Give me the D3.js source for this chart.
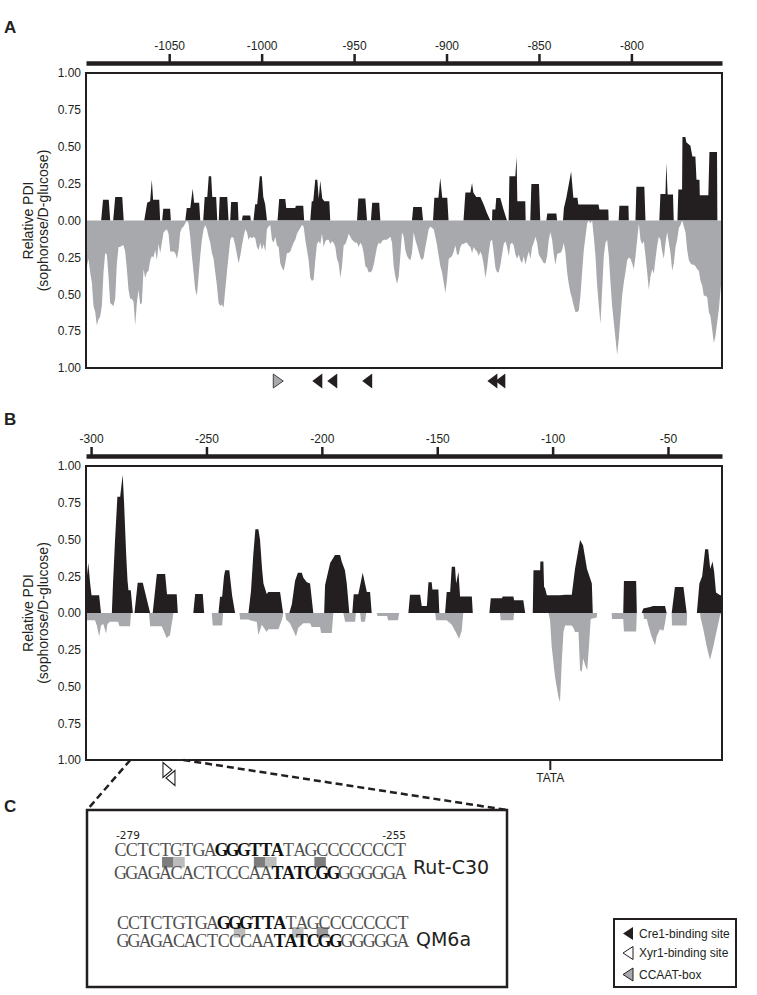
<!DOCTYPE html>
<html><head><meta charset="utf-8">
<script src="https://cdn.jsdelivr.net/npm/d3@7"></script>
<style>
body{margin:0;background:#fff}
svg{display:block;font-family:"Liberation Sans",Arial,sans-serif}
</style>
</head><body>
<svg id="chart" width="757" height="995"></svg>
<script>
// ---------------- DATA ----------------
const domainA = [-1095, -751];
const ticksA = [-1050, -1000, -950, -900, -850, -800];
const domainB = [-302.2, -26.6];
const ticksB = [-300, -250, -200, -150, -100, -50];
const yTickValues = [1, 0.75, 0.5, 0.25, 0, -0.25, -0.5, -0.75, -1];
const yTickLabels = ["1.00","0.75","0.50","0.25","0.00","0.25","0.50","0.75","1.00"];

// Panel A, black (upper) profile: [position bp, relative PDI]
const blackA = [
[-1086.8,0],[-1085.8,0.14],[-1082.7,0.14],[-1081.9,0],
[-1080.3,0],[-1079.2,0.16],[-1075.4,0.16],[-1074.6,0],
[-1063.5,0],[-1061.9,0.12],[-1060.3,0.13],[-1059.4,0.277],[-1058.7,0.14],[-1055.4,0.14],[-1054.9,0],
[-1053.8,0],[-1053.2,0.08],[-1049.5,0.08],[-1049.1,0],
[-1041.3,0],[-1040.5,0.085],[-1038.6,0.085],[-1037.3,0.216],[-1036.5,0.12],[-1033.8,0.12],[-1033.2,0],
[-1031.6,0],[-1030.8,0.16],[-1029.4,0.16],[-1028.6,0.3],[-1027.3,0.3],[-1026.7,0.16],[-1024.6,0.16],[-1024.0,0],
[-1023.2,0],[-1022.7,0.16],[-1018.6,0.16],[-1017.9,0],
[-1017.0,0],[-1016.5,0.126],[-1012.9,0.126],[-1012.5,0],
[-1010.7,0],[-1010.2,0.034],[-1006.2,0.034],[-1005.8,0],
[-1004.4,0],[-1003.5,0.11],[-1002.4,0.11],[-1001.0,0.3],[-999.9,0.3],[-999.1,0.16],[-998.1,0.11],[-997.1,0],
[-991.4,0],[-990.5,0.146],[-987.2,0.146],[-986.7,0.085],[-981.8,0.085],[-981.5,0.1],[-977.5,0.1],[-977.0,0],
[-973.7,0],[-972.9,0.13],[-972.1,0.13],[-971.0,0.277],[-969.9,0.277],[-969.1,0.15],[-968.3,0.27],[-967.2,0.15],[-966.1,0.13],[-963.4,0.13],[-962.9,0],
[-948.4,0],[-947.7,0.15],[-943.9,0.15],[-943.0,0],
[-940.9,0],[-940.2,0.12],[-936.4,0.12],[-935.8,0],
[-918.7,0],[-918.0,0.092],[-913.4,0.092],[-912.7,0],
[-907.3,0],[-906.6,0.155],[-904.4,0.155],[-903.4,0.288],[-902.3,0.155],[-899.6,0.155],[-898.9,0],
[-890.8,0],[-889.8,0.19],[-887.1,0.19],[-886.2,0.255],[-885.5,0.19],[-883.9,0.16],[-881.7,0.16],[-879.9,0.108],[-878.1,0.05],[-876.3,0],
[-875.4,0],[-875.2,0.074],[-873.6,0.074],[-873.1,0.153],[-870.9,0.153],[-869.3,0.08],[-867.3,0],
[-866.4,0],[-866.0,0.3],[-862.8,0.3],[-862.1,0.43],[-861.7,0.13],[-857.4,0.13],[-857.2,0],
[-854.7,0],[-854.1,0.248],[-850.0,0.248],[-849.3,0],
[-846.0,0],[-845.5,0.047],[-840.6,0.047],[-840.2,0],
[-837.0,0],[-836.5,0.085],[-835.2,0.155],[-832.6,0.333],[-831.4,0.155],[-829.2,0.155],[-828.7,0.108],[-817.8,0.108],[-817.3,0.074],[-812.5,0.074],[-812.3,0],
[-806.9,0],[-806.5,0.1],[-801.6,0.1],[-801.4,0],
[-797.8,0],[-797.3,0.228],[-793.0,0.228],[-792.4,0],
[-784.9,0],[-784.3,0.18],[-781.6,0.18],[-781.1,0.39],[-780.4,0.176],[-777.5,0.176],[-777.1,0],
[-775.1,0],[-774.6,0.21],[-772.6,0.21],[-772.4,0.566],[-770.8,0.566],[-770.3,0.53],[-768.1,0.507],[-767.0,0.434],[-765.4,0.434],[-764.8,0.277],[-763.2,0.277],[-763.0,0.171],[-758.4,0.171],[-757.8,0.464],[-753.7,0.464],[-753.5,0]
];

// Panel A, grey (lower) profile: readings taken every 0.902 bp starting at -1095.45
const grayAStart = -1095.45;
const grayAStep = 0.902;
const grayAValues = [
0.47,0.31,0.26,0.35,0.42,0.58,0.62,0.71,0.67,0.65,0.58,0.35,0.22,0.23,0.38,0.56,0.57,0.58,0.53,0.29,
0.18,0.18,0.17,0.17,0.21,0.33,0.47,0.53,0.53,0.55,0.71,0.56,0.47,0.57,0.56,0.33,0.39,0.35,0.34,0.27,
0.24,0.25,0.2,0.27,0.16,0.22,0.15,0.08,0.07,0.06,0.09,0.21,0.21,0.21,0.22,0.26,0.2,0.08,0.05,0.04,
0.02,0,0.02,0.11,0.24,0.35,0.47,0.51,0.38,0.24,0.13,0.06,0.03,0.06,0.11,0.15,0.22,0.26,0.35,0.44,
0.56,0.58,0.57,0.59,0.47,0.35,0.24,0.13,0.11,0.12,0.17,0.23,0.29,0.24,0.17,0.11,0.06,0.08,0.13,0.11,
0.12,0.11,0.12,0.18,0.2,0.15,0.2,0.16,0.21,0.06,0.04,0.03,0.13,0.15,0.11,0.17,0.18,0.29,0.32,0.34,
0.29,0.22,0.22,0.21,0.18,0.15,0.13,0.09,0.07,0.05,0.03,0.04,0.13,0.2,0.27,0.39,0.41,0.4,0.27,0.16,
0.14,0.16,0.09,0.18,0.14,0.13,0.13,0.16,0.14,0.15,0.18,0.26,0.29,0.39,0.31,0.17,0.16,0.13,0.09,0.11,
0.13,0.14,0.15,0.15,0.18,0.15,0.17,0.22,0.31,0.32,0.35,0.35,0.34,0.3,0.24,0.18,0.15,
0.16,0.14,0.13,0.13,0.13,0.12,0.11,0.15,0.31,0.38,0.43,0.38,0.24,0.08,0.11,0.2,0.24,0.26,0.27,0.22,
0.08,0.13,0.17,0.21,0.25,0.27,0.25,0.18,0.12,0.06,0.04,0.05,0.06,0.11,0.17,0.24,0.31,0.35,0.42,0.49,
0.4,0.26,0.25,0.24,0.21,0.17,0.23,0.23,0.18,0.16,0.16,0.15,0.15,0.17,0.18,0.22,0.18,0.2,0.21,0.24,
0.21,0.24,0.3,0.39,0.32,0.22,0.14,0.13,0.22,0.32,0.35,0.35,0.3,0.23,0.16,0.14,0.18,0.24,0.16,0.15,
0.17,0.23,0.26,0.23,0.27,0.29,0.24,0.3,0.25,0.21,0.26,0.18,0.15,0.11,0.15,0.23,0.25,0.27,0.29,0.29,
0.24,0.13,0.08,0.13,0.23,0.3,0.23,0.22,0.22,0.2,0.15,0.22,0.35,0.43,0.49,0.53,0.58,0.62,0.62,0.61,
0.51,0.35,0.2,0.11,0.02,0,0.02,0,0.11,0.24,0.44,0.58,0.7,0.47,0.24,0.15,0.13,0.24,0.42,0.58,
0.69,0.8,0.91,0.8,0.65,0.51,0.42,0.35,0.27,0.25,0.26,0.29,0.33,0.24,0.13,0.02,0.13,0.16,0.14,0.24,
0.35,0.47,0.38,0.33,0.36,0.26,0.17,0.11,0.13,0.21,0.26,0.15,0.08,0.15,0.22,0.34,0.29,0.18,0.13,0.05,
0.03,0,0.04,0.08,0.2,0.27,0.29,0.3,0.3,0.31,0.33,0.34,0.41,0.44,0.51,0.51,0.52,0.62,0.65,0.74,
0.83,0.78,0.69,0.6,0.47,0.35
];

// Panel B, black (upper) profile
const blackB = [
[-302,0.22],[-301.2,0.34],[-300.4,0.2],[-299.8,0.12],[-296.5,0.12],[-295.7,0],
[-291.0,0],[-290.5,0.2],[-289.6,0.5],[-288.6,0.79],[-287.4,0.79],[-286.3,0.94],[-285.7,0.75],[-284.8,0.4],[-284.2,0.22],[-283.8,0.154],[-282.8,0.154],[-281.9,0],
[-281.2,0],[-279.8,0.206],[-277.6,0.206],[-274.4,0],
[-273.3,0],[-271.5,0.265],[-267.9,0.265],[-267.1,0.127],[-262.9,0.127],[-262.4,0],
[-255.7,0],[-254.9,0.13],[-251.6,0.13],[-251.0,0],
[-244.8,0],[-244.1,0.11],[-243.2,0.11],[-242.4,0.25],[-241.9,0.29],[-240.1,0.29],[-238.9,0.12],[-237.6,0],
[-231.8,0],[-230.7,0.15],[-229.7,0.4],[-228.8,0.57],[-227.5,0.57],[-226.8,0.5],[-225.9,0.3],[-225.3,0.2],[-223.9,0.13],[-223.2,0.143],[-218.1,0.143],[-216.8,0],
[-214.1,0],[-213.0,0.06],[-211.6,0.22],[-210.4,0.274],[-208.7,0.274],[-208.0,0.24],[-206.5,0.21],[-205.1,0.2],[-203.7,0],
[-199.0,0],[-198.6,0.19],[-196.4,0.34],[-194.3,0.395],[-192.1,0.395],[-191.4,0.35],[-190.0,0.29],[-189.2,0.2],[-188.1,0],
[-186.8,0],[-186.2,0.127],[-184.2,0.127],[-182.3,0.274],[-181.3,0.2],[-180.5,0.143],[-179.1,0.143],[-178.4,0],
[-162.5,0],[-161.8,0.125],[-157.4,0.125],[-156.7,0.048],[-154.5,0.048],[-153.8,0.21],[-152.4,0.21],[-152.1,0.16],[-149.5,0.16],[-149.1,0],
[-146.6,0],[-145.9,0.143],[-144.4,0.143],[-143.7,0.315],[-142.3,0.315],[-141.8,0.2],[-140.8,0.28],[-140.1,0.113],[-135.0,0.113],[-134.6,0],
[-127.4,0],[-126.8,0.1],[-122.0,0.1],[-121.6,0.113],[-117.0,0.113],[-116.7,0.086],[-112.7,0.086],[-111.9,0],
[-108.6,0],[-108.3,0.29],[-105.4,0.29],[-105.3,0.35],[-104.0,0.35],[-103.7,0.177],[-103.3,0.17],[-102.5,0.12],[-96.8,0.12],[-94.6,0.125],[-91.7,0.125],[-90.3,0.3],[-88.1,0.497],[-86.8,0.46],[-85.1,0.3],[-83.0,0.2],[-82.6,0],
[-69.4,0],[-69.1,0.218],[-63.8,0.218],[-63.5,0],
[-61.4,0],[-60.7,0.03],[-57.8,0.04],[-56.4,0.048],[-51.3,0.048],[-50.6,0],
[-48.4,0],[-47.0,0.177],[-43.3,0.177],[-41.9,0],
[-37.5,0],[-36.4,0.2],[-35.2,0.25],[-33.9,0.433],[-32.6,0.433],[-31.7,0.3],[-30.7,0.35],[-30.0,0.28],[-29.2,0.14],[-27.4,0.12],[-26.6,0.12]
];

// Panel B, grey (lower) profile
const grayB = [
[-302,0.05],[-298.3,0.05],[-297.5,0.085],[-296.5,0.16],[-295.7,0.085],[-294.7,0.075],[-293.5,0.14],[-292.9,0.075],[-291.8,0.06],[-288.3,0.06],[-287.7,0.09],[-283.1,0.09],[-282.7,0],
[-274.9,0],[-274.4,0.09],[-269.4,0.09],[-267.2,0.17],[-265.8,0.15],[-264.3,0],
[-247.7,0],[-247.3,0.085],[-243.2,0.085],[-242.8,0],
[-235.7,0],[-235.4,0.045],[-231.8,0.045],[-231.1,0.05],[-228.2,0.06],[-227.5,0.15],[-226.0,0.08],[-223.9,0.13],[-223.2,0.11],[-218.8,0.11],[-217.2,0.04],[-216.7,0],
[-215.9,0],[-215.5,0.045],[-213.8,0.07],[-211.2,0.16],[-210.2,0.1],[-208.0,0.07],[-205.1,0.07],[-204.4,0.095],[-200.8,0.095],[-200.3,0.136],[-195.7,0.136],[-195.0,0],
[-190.7,0],[-189.9,0.06],[-185.6,0.06],[-185.2,0],[-183.4,0],[-183.0,0.06],[-181.3,0.06],[-180.8,0],
[-176.2,0],[-175.9,0.02],[-171.7,0.02],[-171.3,0.05],[-167.0,0.05],[-166.5,0],
[-150.9,0],[-150.5,0.05],[-145.9,0.05],[-143.7,0.08],[-142.3,0.12],[-140.5,0.175],[-139.4,0.12],[-138.7,0],
[-122.8,0],[-122.5,0.05],[-117.0,0.05],[-116.7,0],
[-101.8,0],[-101.1,0.05],[-100.4,0.23],[-98.9,0.44],[-97.5,0.57],[-96.8,0.605],[-96.0,0.32],[-95.3,0.13],[-94.6,0.085],[-91.7,0.085],[-91.0,0.1],[-90.3,0.13],[-88.8,0.13],[-88.1,0.39],[-87.4,0.4],[-86.7,0.31],[-86.0,0.35],[-85.0,0.39],[-84.1,0.19],[-83.5,0.04],[-80.9,0.03],[-80.7,0],
[-74.4,0],[-74.3,0.04],[-69.4,0.04],[-69.1,0.125],[-63.8,0.125],[-63.5,0],
[-60.7,0],[-60.4,0.04],[-59.2,0.04],[-58.5,0.085],[-57.1,0.16],[-55.6,0.22],[-54.9,0.16],[-53.5,0.11],[-52.0,0.12],[-51.3,0.07],[-50.6,0],
[-48.4,0],[-48.3,0.085],[-41.9,0.085],[-41.7,0],
[-36.1,0],[-35.9,0.03],[-34.7,0.11],[-33.2,0.23],[-31.8,0.32],[-30.4,0.23],[-28.9,0.12],[-27.5,0.02],[-27.0,0]
];

// Binding-site markers
const ccaatA = [-991.0];
const cre1A = [-969.9, -961.8, -942.9, -875.2, -870.9];
const xyr1B = [{pos: -266.9, dir: "right", row: 0}, {pos: -265.6, dir: "left", row: 1}];
const tataB = -101;
const zoomRangeB = [-283, -260];

// Panel C sequences
const seqRutTop = "CCTCTGTGAGGGTTATAGCCCCCCCT";
const seqRutBottom = "GGAGACACTCCCAATATCGGGGGGGA";
const seqQMTop = "CCTCTGTGAGGGTTATAGCCCCCCCT";
const seqQMBottom = "GGAGACACTCCCAATATCGGGGGGGA";
const boldTop = [9, 15];     // GGGTTA
const boldBottom = [14, 20]; // TATCGG
const marksRut = [[4.2,"dark"],[5.2,"light"],[12.4,"dark"],[13.4,"light"],[17.8,"dark"]];
const marksQM = [[10.4,"light"],[15.6,"light"],[17.8,"mid"]];
const legendItems = [["Cre1-binding site","#231f20"],["Xyr1-binding site","#ffffff"],["CCAAT-box","#a7a9ac"]];

// ---------------- DRAW ----------------
const svg = d3.select("#chart");
const INK = "#231f20", GREY = "#a7a9ac";
const SANS = "Liberation Sans, Arial, sans-serif";
const X0 = 86, X1 = 722;

function tri(cx, cy, w, h, dir) {
  const p = dir === "left"
    ? [[cx + w/2, cy - h/2], [cx - w/2, cy], [cx + w/2, cy + h/2]]
    : [[cx - w/2, cy - h/2], [cx + w/2, cy], [cx - w/2, cy + h/2]];
  return "M" + p.map(q => q.join(",")).join("L") + "Z";
}

function panel(o) {
  const x = d3.scaleLinear().domain(o.domain).range([X0, X1]);
  const y = d3.scaleLinear().domain([-1, 1]).range([o.bottom, o.top]);
  const g = svg.append("g");
  const area = d3.area().x(d => x(d[0])).y0(y(0)).y1(d => y(d[1]));
  g.append("path").datum(o.black).attr("d", area).attr("fill", INK);
  g.append("path").datum(o.gray.map(d => [d[0], -d[1]])).attr("d", area).attr("fill", GREY);
  g.append("rect").attr("x", X0).attr("y", o.top).attr("width", X1 - X0).attr("height", o.bottom - o.top)
    .attr("fill", "none").attr("stroke", INK).attr("stroke-width", 2);

  const ax = g.append("g").attr("transform", `translate(0,${o.axisY})`)
    .call(d3.axisTop(x).tickValues(o.ticks).tickSize(9).tickSizeOuter(0).tickPadding(4).tickFormat(d => String(d)));
  ax.select(".domain").attr("stroke", INK).attr("stroke-width", 4.5);
  ax.selectAll(".tick line").attr("stroke", INK).attr("stroke-width", 2.5);
  ax.selectAll("text").attr("font-size", 12).attr("font-family", SANS).attr("fill", INK);

  const ay = g.append("g").attr("transform", `translate(${X0},0)`)
    .call(d3.axisLeft(y).tickValues(yTickValues).tickSize(0).tickPadding(5).tickFormat((d, i) => yTickLabels[i]));
  ay.select(".domain").remove();
  ay.selectAll("text").attr("font-size", 12).attr("font-family", SANS).attr("fill", INK);

  const cy = y(0);
  g.append("text").attr("transform", `translate(33,${cy}) rotate(-90)`).attr("text-anchor", "middle")
    .attr("font-size", 14).attr("fill", INK).text("Relative PDI");
  g.append("text").attr("transform", `translate(48,${cy}) rotate(-90)`).attr("text-anchor", "middle")
    .attr("font-size", 14).attr("fill", INK).text("(sophorose/D-glucose)");

  svg.append("text").attr("x", 4).attr("y", o.letterY).attr("font-size", 17).attr("font-weight", "bold")
    .attr("fill", INK).text(o.letter);
  return {x, y};
}

// Panel A
const A = panel({domain: domainA, ticks: ticksA, black: blackA,
  gray: grayAValues.map((v, i) => [grayAStart + i * grayAStep, v]),
  top: 73, bottom: 368, axisY: 63, letter: "A", letterY: 33});
svg.selectAll(".ccaat").data(ccaatA).join("path").attr("d", d => tri(A.x(d), 381, 10, 14, "right"))
  .attr("fill", GREY).attr("stroke", INK).attr("stroke-width", 0.8);
svg.selectAll(".cre1").data(cre1A).join("path").attr("d", d => tri(A.x(d), 381, 10, 15, "left"))
  .attr("fill", INK);

// Panel B
const B = panel({domain: domainB, ticks: ticksB, black: blackB, gray: grayB,
  top: 466, bottom: 760, axisY: 456, letter: "B", letterY: 425});
svg.append("line").attr("x1", B.x(tataB)).attr("x2", B.x(tataB)).attr("y1", 760).attr("y2", 770)
  .attr("stroke", INK).attr("stroke-width", 2);
svg.append("text").attr("x", B.x(tataB)).attr("y", 782).attr("text-anchor", "middle").attr("font-size", 12)
  .attr("fill", INK).text("TATA");
svg.selectAll(".xyr").data(xyr1B).join("path")
  .attr("d", d => tri(B.x(d.pos), 770 + d.row * 8, 9, 15, d.dir))
  .attr("fill", "#fff").attr("stroke", INK).attr("stroke-width", 1.1);

// zoom lines to panel C
const boxC = {x: 87, y: 810, w: 420, h: 177};
svg.append("line").attr("x1", B.x(zoomRangeB[0])).attr("y1", 760).attr("x2", boxC.x).attr("y2", boxC.y)
  .attr("stroke", INK).attr("stroke-width", 2.5).attr("stroke-dasharray", "7,4");
svg.append("line").attr("x1", B.x(zoomRangeB[1])).attr("y1", 760).attr("x2", boxC.x + boxC.w).attr("y2", boxC.y)
  .attr("stroke", INK).attr("stroke-width", 2.5).attr("stroke-dasharray", "7,4");

// Panel C
svg.append("text").attr("x", 4).attr("y", 812).attr("font-size", 17).attr("font-weight", "bold").attr("fill", INK).text("C");
svg.append("rect").attr("x", boxC.x).attr("y", boxC.y).attr("width", boxC.w).attr("height", boxC.h)
  .attr("fill", "#fff").attr("stroke", INK).attr("stroke-width", 2.5);

const charW = 11.2;
const SERIF = "Liberation Serif, Times New Roman, serif";
const markColor = {dark: "#7d7d7d", light: "#bcbcbc", mid: "#9a9a9a"};
function seqLine(str, x0, base, bold) {
  const t = svg.append("text").attr("y", base).attr("text-anchor", "middle")
    .attr("font-family", SERIF).attr("font-size", 18);
  const segs = [[0, bold[0], false], [bold[0], bold[1], true], [bold[1], str.length, false]];
  segs.forEach(([a, b, isB]) => {
    const xs = d3.range(a, b).map(i => (x0 + i * charW + charW / 2).toFixed(1)).join(" ");
    t.append("tspan").attr("x", xs).attr("font-weight", isB ? "bold" : "normal")
      .attr("fill", isB ? "#111" : "#505050").text(str.slice(a, b));
  });
}
function marks(list, x0, y0) {
  svg.append("g").selectAll("rect").data(list).join("rect")
    .attr("x", d => x0 + d[0] * charW).attr("y", y0).attr("width", 11.5).attr("height", 10.5)
    .attr("fill", d => markColor[d[1]]);
}
marks(marksRut, 115, 857);
seqLine(seqRutTop, 115, 856, boldTop);
seqLine(seqRutBottom, 115, 879, boldBottom);
marks(marksQM, 117.3, 927);
seqLine(seqQMTop, 117.3, 929, boldTop);
seqLine(seqQMBottom, 117.3, 947, boldBottom);
const DV = "DejaVu Sans, Verdana, sans-serif";
svg.append("text").attr("x", 116).attr("y", 839).attr("font-family", DV).attr("font-size", 10.5).attr("fill", INK).text("-279");
svg.append("text").attr("x", 406).attr("y", 839).attr("text-anchor", "end").attr("font-family", DV).attr("font-size", 10.5).attr("fill", INK).text("-255");
svg.append("text").attr("x", 413).attr("y", 874).attr("font-family", DV).attr("font-size", 19).attr("fill", INK).text("Rut-C30");
svg.append("text").attr("x", 416).attr("y", 946).attr("font-family", DV).attr("font-size", 19).attr("fill", INK).text("QM6a");

// Legend
svg.append("rect").attr("x", 614).attr("y", 919).attr("width", 122).attr("height", 68)
  .attr("fill", "#fff").attr("stroke", INK).attr("stroke-width", 2);
const legRows = [933.5, 953, 974.5], legBase = [937.5, 957, 979];
legendItems.forEach((d, i) => {
  svg.append("path").attr("d", tri(628, legRows[i], 10, 13, "left")).attr("fill", d[1])
    .attr("stroke", INK).attr("stroke-width", i === 0 ? 0 : 1);
  svg.append("text").attr("x", 639).attr("y", legBase[i]).attr("font-size", 12).attr("fill", INK).text(d[0]);
});
</script>
</body></html>
